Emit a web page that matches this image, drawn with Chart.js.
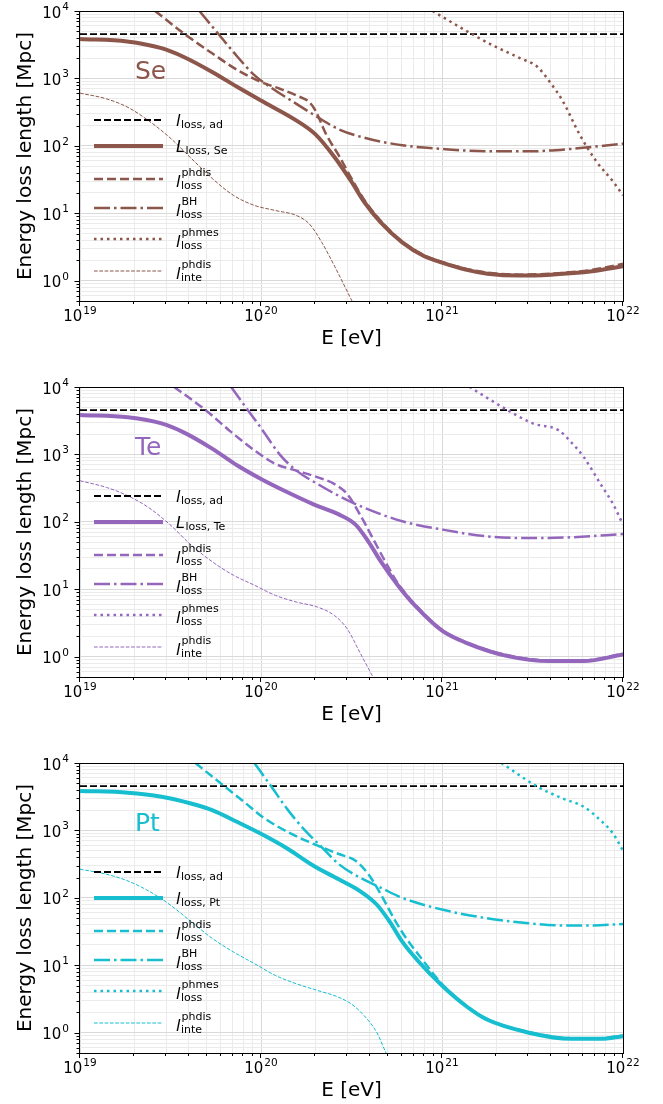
<!DOCTYPE html>
<html>
<head>
<meta charset="utf-8">
<script src="https://cdn.jsdelivr.net/npm/chart.js@4"></script>
<style>
  body { margin: 0; background: #fff; }
  canvas { display: block; }
</style>
</head>
<body>
<canvas id="c0" width="663" height="376"></canvas>
<canvas id="c1" width="663" height="376"></canvas>
<canvas id="c2" width="663" height="352"></canvas>
<script>
// axis ticks
const xMajor = [1e19, 1e20, 1e21, 1e22];
const xMajorExp = ['19', '20', '21', '22'];
const yMajor = [1, 10, 100, 1000, 10000];
const yMajorExp = ['0', '1', '2', '3', '4'];

// adiabatic loss length (same in all panels)
const adE = [1e19, 1e22];
const adL = [4550, 4550];

// Se
const seTotE = [1e19, 1.82e19, 2.82e19, 3.72e19, 5.37e19, 7.41e19, 1e20, 1.58e20, 2.0e20, 2.57e20, 3.16e20, 3.72e20, 4.57e20, 6.03e20, 7.94e20, 1e21, 1.35e21, 1.78e21, 2.69e21, 3.98e21, 6.76e21, 1e22];
const seTotL = [3840, 3540, 2810, 2100, 1250, 745, 470, 235, 148, 66, 29.4, 14.7, 7.4, 3.7, 2.32, 1.85, 1.46, 1.27, 1.19, 1.23, 1.38, 1.64];
const sePhdisE = [2.6e19, 3.78e19, 5.37e19, 7.41e19, 1e20, 1.27e20, 1.57e20, 1.85e20, 2.0e20, 2.29e20, 2.69e20, 3.16e20, 3.72e20, 4.57e20, 6.03e20, 7.94e20, 1e21, 1.35e21, 1.78e21, 2.69e21, 3.98e21, 6.76e21, 1e22];
const sePhdisL = [1e4, 4560, 2360, 1330, 885, 703, 558, 444, 332, 148, 72, 33, 15.8, 7.8, 3.8, 2.4, 1.9, 1.51, 1.32, 1.23, 1.27, 1.45, 1.78];
const seBhE = [4.57e19, 5.82e19, 7.41e19, 9.19e19, 1.14e20, 1.57e20, 2.0e20, 2.69e20, 3.72e20, 6.03e20, 1e21, 1.76e21, 3.02e21, 5.16e21, 1e22];
const seBhL = [1e4, 4560, 2100, 1117, 728, 419, 279, 176, 132, 102, 90, 83, 83, 90, 108];
const sePhmesE = [8.87e20, 1.46e21, 1.96e21, 2.71e21, 3.36e21, 3.94e21, 4.63e21, 5.75e21, 7.13e21, 8.83e21, 1e22];
const sePhmesL = [1e4, 4560, 2980, 1990, 1490, 885, 470, 148, 58.7, 29.4, 18.5];
const seInteE = [1e19, 1.40e19, 1.84e19, 2.40e19, 3.14e19, 4.10e19, 5.37e19, 7.03e19, 9.19e19, 1.20e20, 1.57e20, 1.85e20, 2.17e20, 2.55e20, 3.16e20, 3.55e20];
const seInteL = [605, 498, 372, 235, 132, 66, 33, 18.5, 13.1, 11.0, 9.27, 6.95, 3.68, 1.64, 0.52, 0.28];

// Te
const teTotE = [1e19, 1.84e19, 2.82e19, 3.69e19, 5.37e19, 7.41e19, 1e20, 1.41e20, 1.95e20, 2.69e20, 3.33e20, 3.92e20, 4.60e20, 5.70e20, 7.08e20, 1e21, 1.35e21, 2.31e21, 3.94e21, 6.07e21, 1e22];
const teTotL = [3850, 3550, 2880, 2160, 1220, 684, 432, 272, 182, 129, 91, 51, 25.7, 11.5, 5.75, 2.43, 1.62, 1.02, 0.86, 0.86, 1.08];
const tePhdisE = [3.31e19, 4.95e19, 6.65e19, 9.19e19, 1.20e20, 1.57e20, 2.06e20, 2.55e20, 3.0e20, 3.52e20, 4.14e20, 4.86e20, 5.70e20, 7.08e20, 1e21, 1.35e21, 2.31e21, 3.94e21, 6.07e21, 1e22];
const tePhdisL = [1e4, 4520, 2290, 1150, 724, 575, 457, 363, 257, 129, 57.5, 25.7, 12.3, 6.0, 2.51, 1.66, 1.05, 0.88, 0.88, 1.11];
const teBhE = [6.84e19, 8.47e19, 1.02e20, 1.26e20, 1.57e20, 2.06e20, 2.69e20, 3.52e20, 6.03e20, 1e21, 1.76e21, 3.16e21, 5.16e21, 1e22];
const teBhL = [1e4, 4520, 2290, 1020, 575, 363, 243, 172, 102, 77, 61, 57.5, 59, 66];
const tePhmesE = [1.42e21, 2.31e21, 3.18e21, 4.40e21, 5.16e21, 6.07e21, 7.52e21, 8.83e21, 1e22];
const tePhmesL = [1e4, 4520, 2880, 2290, 1530, 912, 363, 182, 91];
const teInteE = [1e19, 1.40e19, 1.84e19, 2.40e19, 3.14e19, 4.10e19, 5.37e19, 7.03e19, 9.19e19, 1.20e20, 1.57e20, 2.06e20, 2.55e20, 3.0e20, 3.52e20, 4.14e20, 4.79e20];
const teInteL = [407, 324, 243, 162, 91, 45.7, 25.7, 16.2, 11.5, 8.13, 6.46, 5.43, 4.07, 2.57, 1.15, 0.51, 0.25];

// Pt
const ptTotE = [1e19, 1.84e19, 2.82e19, 4.10e19, 5.37e19, 7.41e19, 1e20, 1.41e20, 1.95e20, 2.69e20, 3.52e20, 4.37e20, 5.13e20, 6.03e20, 7.46e20, 1e21, 1.35e21, 1.76e21, 3.02e21, 5.16e21, 7.52e21, 1e22];
const ptTotL = [3850, 3630, 3160, 2510, 2000, 1330, 891, 531, 299, 188, 126, 79, 44.7, 22.4, 11.2, 5.0, 2.51, 1.58, 1.0, 0.81, 0.81, 0.89];
const ptPhdisE = [4.34e19, 6.31e19, 8.26e19, 1.02e20, 1.41e20, 1.95e20, 2.69e20, 3.33e20, 3.92e20, 4.60e20, 5.41e20, 6.35e20, 7.46e20, 1e21, 1.35e21, 1.76e21, 3.02e21, 5.16e21, 7.52e21, 1e22];
const ptPhdisL = [1e4, 4470, 2510, 1580, 944, 631, 447, 355, 224, 112, 50, 25, 14.1, 5.25, 2.57, 1.62, 1.02, 0.83, 0.83, 0.91];
const ptBhE = [9.19e19, 1.14e20, 1.41e20, 1.75e20, 2.17e20, 2.69e20, 3.52e20, 4.60e20, 6.03e20, 1e21, 1.76e21, 3.02e21, 4.63e21, 6.76e21, 1e22];
const ptBhL = [1e4, 4470, 2000, 1000, 562, 316, 200, 141, 100, 67, 50, 42, 39, 39, 41];
const ptPhmesE = [2.13e21, 3.36e21, 4.63e21, 6.07e21, 7.52e21, 8.83e21, 1e22];
const ptPhmesL = [1e4, 4470, 2990, 2240, 1410, 891, 501];
const ptInteE = [1e19, 1.40e19, 1.84e19, 2.40e19, 3.14e19, 4.10e19, 5.37e19, 7.03e19, 9.19e19, 1.20e20, 1.57e20, 2.06e20, 2.69e20, 3.16e20, 3.72e20, 4.37e20, 4.86e20, 5.62e20];
const ptInteL = [266, 224, 178, 126, 79, 44.7, 25.1, 15.8, 10.6, 7.08, 5.31, 4.22, 3.35, 2.66, 1.78, 1.0, 0.53, 0.25];

const FONT = '"DejaVu Sans"';

const panels = [
    { canvas: 'c0', name: 'Se', color: '#8c564b', totSym: 'L',
      series: [[seTotE, seTotL], [sePhdisE, sePhdisL], [seBhE, seBhL], [sePhmesE, sePhmesL], [seInteE, seInteL]] },
    { canvas: 'c1', name: 'Te', color: '#9467bd', totSym: 'L',
      series: [[teTotE, teTotL], [tePhdisE, tePhdisL], [teBhE, teBhL], [tePhmesE, tePhmesL], [teInteE, teInteL]] },
    { canvas: 'c2', name: 'Pt', color: '#17becf', totSym: 'l',
      series: [[ptTotE, ptTotL], [ptPhdisE, ptPhdisL], [ptBhE, ptBhL], [ptPhmesE, ptPhmesL], [ptInteE, ptInteL]] }
];

// line styles: total, phdis, BH, phmes, inte
const lineW = [4, 2.5, 2.5, 2.5, 1];
const lineDash = [[], [9, 4], [16, 4, 2.5, 4], [2.5, 4], [3.7, 1.6]];
const adW = 1.8;
const adDash = [7, 3];

function pts(xs, ys) {
    return xs.map((x, i) => ({ x: x, y: ys[i] }));
}

function logTicks(lo, hi, minVal) {
    let out = [];
    for (let e = lo; e < hi; e++) {
        for (let m = 1; m < 10; m++) {
            let v = m * Math.pow(10, e);
            if (v >= minVal * 0.999) out.push({ value: v, major: m === 1 });
        }
    }
    out.push({ value: Math.pow(10, hi), major: true });
    return out;
}

function drawPow(ctx, exp, x, y, align) {
    // "10" with a superscript exponent
    ctx.font = '15px ' + FONT;
    let w10 = ctx.measureText('10').width;
    ctx.font = '10.5px ' + FONT;
    let we = ctx.measureText(exp).width;
    let left = align === 'center' ? x - (w10 + we + 1) / 2 : x - (w10 + we + 1);
    ctx.textAlign = 'left';
    ctx.font = '15px ' + FONT;
    ctx.fillText('10', left, y);
    ctx.font = '10.5px ' + FONT;
    ctx.fillText(exp, left + w10 + 1, y - 7.5);
}

function makeDecor(p) {
    return {
        id: 'decor',
        afterDraw(chart) {
            const ctx = chart.ctx;
            const a = chart.chartArea;
            const xs = chart.scales.x, ys = chart.scales.y;
            ctx.save();
            ctx.fillStyle = '#000';
            ctx.strokeStyle = '#000';
            ctx.lineWidth = 1;
            ctx.setLineDash([]);
            // frame
            ctx.strokeRect(a.left - 0.5, a.top + 0.5, a.right - a.left + 1, a.bottom - a.top);
            // tick marks
            ctx.beginPath();
            xs.ticks.forEach(t => {
                let px = Math.round(xs.getPixelForValue(t.value)) - 0.5;
                ctx.moveTo(px, a.bottom);
                ctx.lineTo(px, a.bottom + (t.major ? 5 : 3));
            });
            ys.ticks.forEach(t => {
                let py = Math.round(ys.getPixelForValue(t.value)) + 0.5;
                ctx.moveTo(a.left - 0.5, py);
                ctx.lineTo(a.left - 0.5 - (t.major ? 5 : 3), py);
            });
            ctx.stroke();
            // tick labels
            ctx.textBaseline = 'alphabetic';
            xMajor.forEach((v, i) => {
                drawPow(ctx, xMajorExp[i], xs.getPixelForValue(v), a.bottom + 20, 'center');
            });
            yMajor.forEach((v, i) => {
                drawPow(ctx, yMajorExp[i], a.left - 11, ys.getPixelForValue(v) + 6.5, 'right');
            });
            // axis titles
            ctx.font = '20px ' + FONT;
            ctx.textAlign = 'center';
            ctx.fillText('E [eV]', (a.left + a.right) / 2, a.bottom + 43);
            ctx.save();
            ctx.translate(31, (a.top + a.bottom) / 2);
            ctx.rotate(-Math.PI / 2);
            ctx.fillText('Energy loss length [Mpc]', 0, 0);
            ctx.restore();
            // element name
            ctx.fillStyle = p.color;
            ctx.font = '25px ' + FONT;
            ctx.textAlign = 'left';
            ctx.fillText(p.name, 135, 79);
            // legend
            const rows = [
                { y: 120, color: '#000', w: adW, dash: adDash, main: 'l', sub: 'loss, ad' },
                { y: 146, color: p.color, w: lineW[0], dash: lineDash[0], main: p.totSym, sub: 'loss, ' + p.name },
                { y: 179, color: p.color, w: lineW[1], dash: lineDash[1], main: 'l', sup: 'phdis', sub: 'loss' },
                { y: 208, color: p.color, w: lineW[2], dash: lineDash[2], main: 'l', sup: 'BH', sub: 'loss' },
                { y: 239, color: p.color, w: lineW[3], dash: lineDash[3], main: 'l', sup: 'phmes', sub: 'loss' },
                { y: 271, color: p.color, w: lineW[4], dash: lineDash[4], main: 'l', sup: 'phdis', sub: 'inte' }
            ];
            rows.forEach(r => {
                ctx.strokeStyle = r.color;
                ctx.lineWidth = r.w;
                ctx.setLineDash(r.dash);
                ctx.beginPath();
                ctx.moveTo(94, r.y);
                ctx.lineTo(163, r.y);
                ctx.stroke();
                ctx.setLineDash([]);
                ctx.fillStyle = '#000';
                let both = r.sup && r.sub;
                ctx.font = 'italic 16px ' + FONT;
                ctx.fillText(r.main, 176, r.y + (both ? 8 : 6));
                let mw = ctx.measureText(r.main).width;
                ctx.font = '11px ' + FONT;
                if (r.sup) ctx.fillText(r.sup, 176 + mw + 1, r.y - 3);
                ctx.fillText(r.sub, 176 + mw + 0.5, r.y + (both ? 10 : 8));
            });
            ctx.restore();
        }
    };
}

panels.forEach(p => {
    const cv = document.getElementById(p.canvas);
    const H = cv.height;
    let datasets = [{
        data: pts(adE, adL), borderColor: '#000', borderWidth: adW, borderDash: adDash, order: 6
    }];
    p.series.forEach((s, i) => {
        datasets.push({
            data: pts(s[0], s[1]),
            borderColor: p.color,
            borderWidth: lineW[i],
            borderDash: lineDash[i],
            cubicInterpolationMode: 'monotone',
            order: 5 - i
        });
    });
    datasets.forEach(d => {
        d.showLine = true;
        d.pointRadius = 0;
        d.pointHoverRadius = 0;
        d.fill = false;
        d.clip = 0;
    });

    new Chart(cv.getContext('2d'), {
        type: 'scatter',
        data: { datasets: datasets },
        options: {
            responsive: false,
            animation: false,
            events: [],
            layout: { padding: { left: 0, right: 40, top: 11, bottom: 0 } },
            plugins: { legend: { display: false }, tooltip: { enabled: false } },
            scales: {
                x: {
                    type: 'logarithmic', min: 1e19, max: 1e22,
                    afterBuildTicks: s => { s.ticks = logTicks(19, 22, 1e19); },
                    afterFit: s => { s.height = H - 301; },
                    ticks: { display: false },
                    border: { display: false },
                    grid: {
                        drawTicks: false,
                        color: c => (c.tick && c.tick.major) ? '#d9d9d9' : '#ebebeb',
                        lineWidth: 1
                    }
                },
                y: {
                    type: 'logarithmic', min: 0.5, max: 1e4,
                    afterBuildTicks: s => { s.ticks = logTicks(-1, 4, 0.5); },
                    afterFit: s => { s.width = 80; },
                    ticks: { display: false },
                    border: { display: false },
                    grid: {
                        drawTicks: false,
                        color: c => (c.tick && c.tick.major) ? '#d9d9d9' : '#ebebeb',
                        lineWidth: 1
                    }
                }
            }
        },
        plugins: [makeDecor(p)]
    });
});
</script>
</body>
</html>
